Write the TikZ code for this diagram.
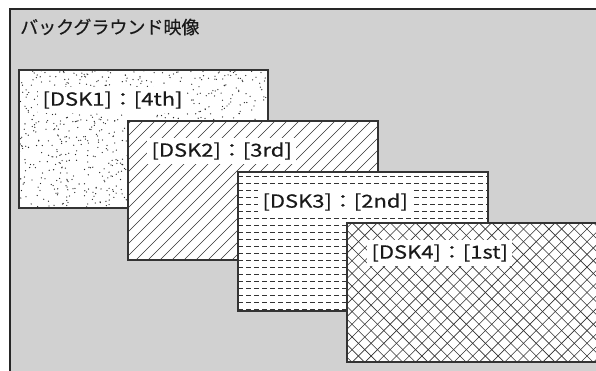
\documentclass[tikz,border=0pt]{standalone}
\usepackage{fontspec}
\setmainfont{Noto Sans CJK JP}[FakeBold=0.35]
\usetikzlibrary{calc}

\tikzset{
  dskbox/.style={draw=black!80, line width=1.2pt},
  hatch/.style={draw=black!80, line width=0.6pt},
  dsklabel/.style={fill=white, inner xsep=3.5pt, inner ysep=4pt, anchor=west, text=black!90,
    xscale=1.22, transform shape, font=\fontsize{18}{18}\selectfont},
}

\begin{document}
\begin{tikzpicture}[x=1pt, y=-1pt]
    \useasboundingbox (0,0) rectangle (596,370);

    % 背景映像の枠
    \draw[fill=black!18, draw=black!85, line width=2pt] (10,9) rectangle (620,390);
    \node[anchor=west, inner sep=0pt, text=black!90, font=\fontsize{18}{18}\selectfont]
        (bgtitle) at (20,27) {バックグラウンド映像};

    % DSK1 (点描)
    \coordinate (A1) at (19,70);
    \coordinate (B1) at (268,208);
    \fill[white] (A1) rectangle (B1);
    \begin{scope}
        \clip (A1) rectangle (B1);
        \pgfmathsetseed{7}
        \foreach \i in {1,...,900}
            \fill[black!85] ({19+249*rnd},{70+138*rnd}) circle (0.65);
    \end{scope}
    \draw[dskbox] (A1) rectangle (B1);
    \node[dsklabel] (dsk1) at (38,100) {[DSK1]：[4th]};

    % DSK2 (斜線)
    \coordinate (A2) at (128,121);
    \coordinate (B2) at (378,260);
    \fill[white] (A2) rectangle (B2);
    \begin{scope}
        \clip (A2) rectangle (B2);
        \foreach \x in {-20,-8,...,390}
            \draw[hatch] (\x,260) -- ++(139,-139);
    \end{scope}
    \draw[dskbox] (A2) rectangle (B2);
    \node[dsklabel] (dsk2) at (147,151) {[DSK2]：[3rd]};

    % DSK3 (横破線)
    \coordinate (A3) at (238,172);
    \coordinate (B3) at (488,311);
    \fill[white] (A3) rectangle (B3);
    \begin{scope}
        \clip (A3) rectangle (B3);
        \foreach \y in {176,183,...,311}
            \draw[hatch, dash pattern=on 5pt off 3pt] (238,\y) -- (488,\y);
    \end{scope}
    \draw[dskbox] (A3) rectangle (B3);
    \node[dsklabel] (dsk3) at (258,202) {[DSK3]：[2nd]};

    % DSK4 (格子)
    \coordinate (A4) at (347,223);
    \coordinate (B4) at (597,362);
    \fill[white] (A4) rectangle (B4);
    \begin{scope}
        \clip (A4) rectangle (B4);
        \foreach \x in {200,212.7,...,620} {
            \draw[hatch] (\x,362) -- ++(139,-139);
            \draw[hatch] (\x,223) -- ++(139,139);
        }
    \end{scope}
    \draw[dskbox] (A4) rectangle (B4);
    \node[dsklabel] (dsk4) at (367,253) {[DSK4]：[1st]};
\end{tikzpicture}
\end{document}
